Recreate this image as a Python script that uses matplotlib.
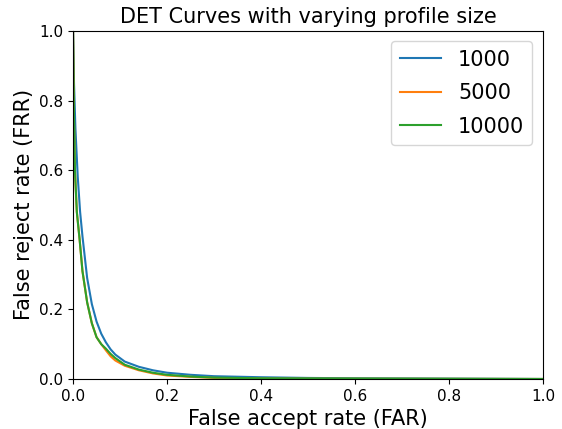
import matplotlib
matplotlib.use("Agg")
import matplotlib.pyplot as plt

# DET curve samples (FAR, FRR)
far_1000 = [0, 0.002, 0.005, 0.01, 0.015, 0.02, 0.03, 0.04, 0.05, 0.06, 0.07, 0.08,
            0.09, 0.11, 0.14, 0.17, 0.2, 0.25, 0.3, 0.4, 0.5, 0.6, 0.8, 1.0]
frr_1000 = [1.0, 0.85, 0.72, 0.58, 0.48, 0.41, 0.29, 0.215, 0.165, 0.13, 0.105, 0.085,
            0.07, 0.05, 0.035, 0.025, 0.018, 0.012, 0.008, 0.005, 0.003, 0.002, 0.001, 0.0]

far_5000 = [0, 0.002, 0.004, 0.008, 0.014, 0.02, 0.03, 0.04, 0.05, 0.06, 0.07, 0.08,
            0.09, 0.11, 0.14, 0.17, 0.2, 0.25, 0.3, 0.4, 1.0]
frr_5000 = [1.0, 0.74, 0.6, 0.48, 0.4, 0.31, 0.22, 0.16, 0.12, 0.1, 0.082, 0.065,
            0.053, 0.038, 0.025, 0.016, 0.01, 0.006, 0.003, 0.001, 0.0]

far_10000 = [0, 0.002, 0.004, 0.008, 0.014, 0.02, 0.03, 0.04, 0.05, 0.06, 0.07, 0.08,
             0.09, 0.11, 0.14, 0.17, 0.2, 0.25, 0.3, 0.4, 1.0]
frr_10000 = [1.0, 0.75, 0.6, 0.48, 0.4, 0.31, 0.22, 0.16, 0.12, 0.1, 0.087, 0.072,
             0.06, 0.041, 0.027, 0.018, 0.012, 0.007, 0.004, 0.002, 0.0]

fig = plt.figure(figsize=(5.62, 4.29), dpi=100)
ax = fig.add_axes([0.130, 0.1166, 0.836, 0.8114])

ax.plot(far_1000, frr_1000, color="tab:blue", label="1000")
ax.plot(far_5000, frr_5000, color="tab:orange", label="5000")
ax.plot(far_10000, frr_10000, color="tab:green", label="10000")

ax.set_xlim(0, 1)
ax.set_ylim(0, 1)
ax.set_title("DET Curves with varying profile size", fontsize=15)
ax.set_xlabel("False accept rate (FAR)", fontsize=15)
ax.set_ylabel("False reject rate (FRR)", fontsize=15)
ax.tick_params(labelsize=11)
ax.legend(loc="upper right", fontsize=15, labelspacing=0.65)

plt.savefig("out.png", dpi=100)
